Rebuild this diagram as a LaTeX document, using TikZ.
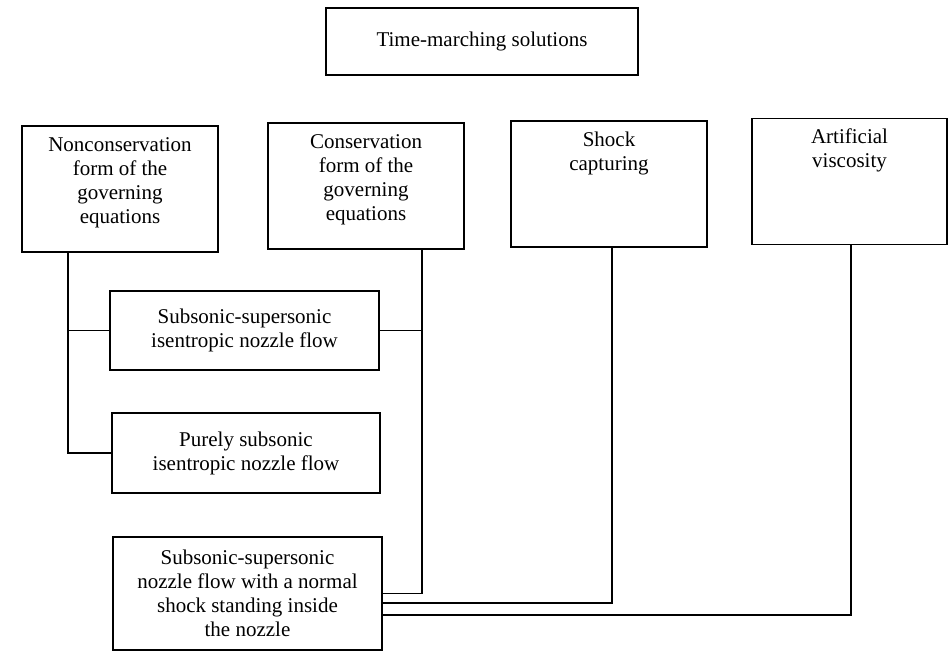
\documentclass[tikz,border=0pt]{standalone}
\usepackage{fontspec}
\setmainfont{Liberation Serif}
\begin{document}
\begin{tikzpicture}[x=0.5pt,y=-0.5pt,
  box/.style={draw, line width=0.8pt, inner sep=0pt, align=center},
  conn/.style={draw, line width=0.8pt},
  font=\fontsize{10.5pt}{12pt}\selectfont]
\useasboundingbox (0,0) rectangle (949,660);
\newcommand{\topbox}[2]{\parbox[c][63pt][t]{#1}{\centering\rule{0pt}{12.5pt}#2}}
% top
\node[box, minimum width=156pt, minimum height=33.5pt] (tm) at (482,41.5) {Time-marching solutions};
% second row
\node[box] (nc) at (120,189) {\topbox{98pt}{Nonconservation\\form of the\\governing\\equations}};
\node[box] (co) at (366,186) {\topbox{98pt}{Conservation\\form of the\\governing\\equations}};
\node[box] (sh) at (609,184) {\topbox{98pt}{Shock\\capturing}};
\node[box] (av) at (849.5,181.5) {\topbox{97.5pt}{Artificial\\viscosity}};
% middle boxes
\node[box, minimum width=134.5pt, minimum height=39.5pt] (ss) at (244.5,330.5) {Subsonic-supersonic\\isentropic nozzle flow};
\node[box, minimum width=134pt, minimum height=40pt] (ps) at (246,453) {Purely subsonic\\isentropic nozzle flow};
\node[box, minimum width=134.5pt, minimum height=56.5pt] (sb) at (247.5,593.5) {Subsonic-supersonic\\nozzle flow with a normal\\shock standing inside\\the nozzle};
% connectors
\draw[conn] (nc.south -| 68,0) |- (ps.west);
\draw[conn] (ss.west) -- (ss.west -| 68,0);
\draw[conn] (co.south -| 422,0) |- (sb.east);
\draw[conn] (ss.east) -- (ss.east -| 422,0);
\draw[conn] (sh.south -| 612,0) |- (sb.east |- 0,603);
\draw[conn] (av.south -| 851,0) |- (sb.east |- 0,615);
\end{tikzpicture}
\end{document}
